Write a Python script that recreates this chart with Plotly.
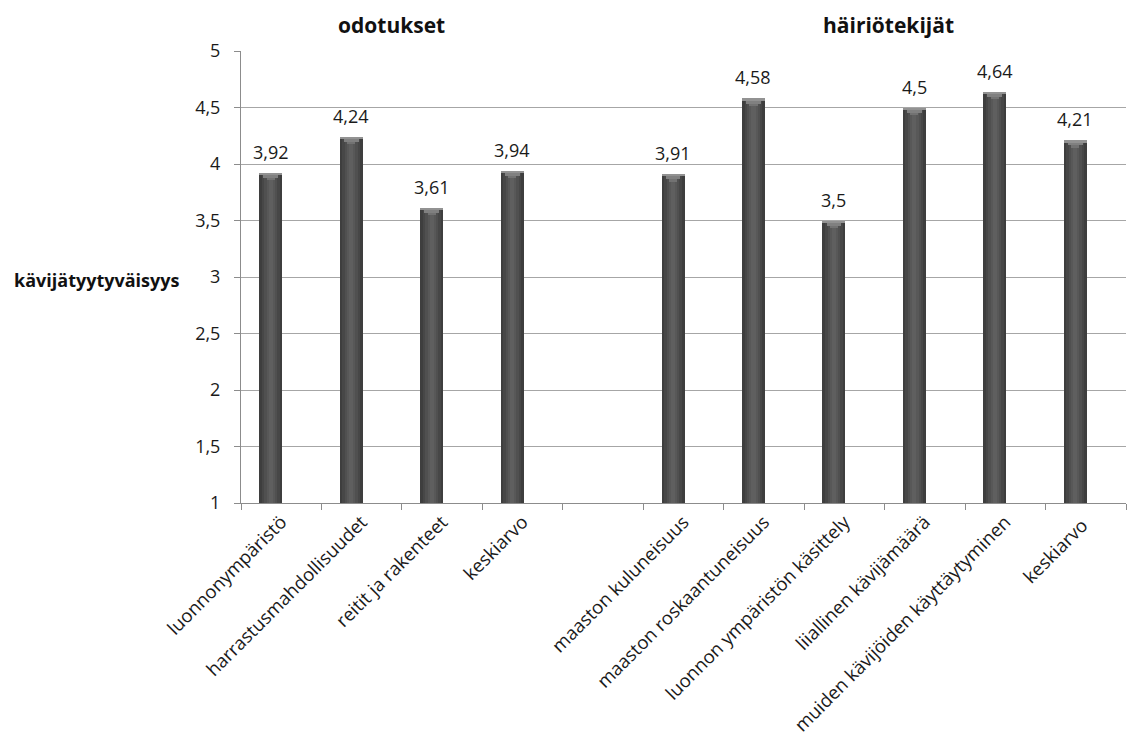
import plotly.graph_objects as go

# Categories (a blank slot separates the two groups)
categories = [
    "luonnonympäristö",
    "harrastusmahdollisuudet",
    "reitit ja rakenteet",
    "keskiarvo",
    " ",
    "maaston kuluneisuus",
    "maaston roskaantuneisuus",
    "luonnon ympäristön käsittely",
    "liiallinen kävijämäärä",
    "muiden kävijöiden käyttäytyminen",
    "keskiarvo ",
]
values = [3.92, 4.24, 3.61, 3.94, None, 3.91, 4.58, 3.5, 4.5, 4.64, 4.21]
group_titles = ["odotukset", "häiriötekijät"]
y_title = "kävijätyytyväisyys"

FONT = "Open Sans"
BAR_W = 0.285       # bar width in category units
BAR_C = -0.13       # bar centre relative to category centre

fig = go.Figure()

# cylinder-like shading: stacked layers, narrower ones lighter
layers = [(1.0, "#3e3e3e"), (0.78, "#474747"), (0.56, "#505050"),
          (0.36, "#585858"), (0.18, "#5f5f5f")]
for frac, col in layers:
    w = BAR_W * frac
    fig.add_trace(go.Bar(
        x=categories, y=values, width=w, offset=BAR_C - w / 2,
        marker=dict(color=col, line=dict(width=0)),
        hoverinfo="skip", showlegend=False,
    ))

# lighter V-shaped cap at the top of each cylinder
cap_x = [c for c, v in zip(categories, values) if v is not None]
cap_v = [v for v in values if v is not None]
for frac, depth, col in [(0.35, 0.065, "#727272"), (0.65, 0.045, "#808080"),
                         (1.0, 0.02, "#929292")]:
    w = BAR_W * frac
    fig.add_trace(go.Bar(
        x=cap_x, y=[depth] * len(cap_v), base=[v - depth for v in cap_v],
        width=w, offset=BAR_C - w / 2,
        marker=dict(color=col, line=dict(width=0)),
        hoverinfo="skip", showlegend=False,
    ))

# value labels
for c, v in zip(categories, values):
    if v is None:
        continue
    fig.add_annotation(
        x=c, y=v, xref="x", yref="y", text=f"{v:g}".replace(".", ","),
        showarrow=False, xshift=BAR_C * 80.4, yshift=21, yanchor="middle",
        font=dict(family=FONT, size=18, color="#1a1a1a"),
    )

# group titles
for title, xp in zip(group_titles, [0.1706, 0.7311]):
    fig.add_annotation(
        x=xp, y=1.058, xref="paper", yref="paper", text=f"<b>{title}</b>",
        showarrow=False, xanchor="center", yanchor="middle",
        font=dict(family=FONT, size=21, color="#111111"),
    )

# horizontal y-axis title
fig.add_annotation(
    x=-0.2588, y=3, xref="paper", yref="y", text=f"<b>{y_title}</b>",
    showarrow=False, xanchor="left", yanchor="middle", yshift=-3,
    font=dict(family=FONT, size=18, color="#111111"),
)

fig.update_layout(
    width=1128, height=756,
    margin=dict(l=241, r=2, t=51, b=253, autoexpand=False),
    barmode="overlay",
    bargap=0,
    plot_bgcolor="white", paper_bgcolor="white",
    separators=", ",
    font=dict(family=FONT, size=18, color="#1a1a1a"),
    showlegend=False,
)
fig.update_xaxes(
    type="category", categoryorder="array", categoryarray=categories,
    tickangle=-45, tickson="boundaries", ticks="outside", ticklen=6,
    tickcolor="#8c8c8c", showline=True, linecolor="#8c8c8c", linewidth=1,
    showgrid=False, tickfont=dict(family=FONT, size=18.5, color="#1a1a1a"),
    automargin=False, range=[-0.5, 10.5],
)
fig.update_yaxes(
    range=[1, 5], dtick=0.5, tick0=1, ticks="outside", ticklen=6,
    tickcolor="#8c8c8c", showline=True, linecolor="#8c8c8c", linewidth=1,
    showgrid=True, gridcolor="#a6a6a6", gridwidth=1, zeroline=False,
    tickfont=dict(family=FONT, size=18, color="#1a1a1a"),
    ticklabelstandoff=10, automargin=False,
)

fig.write_html("out.html")
